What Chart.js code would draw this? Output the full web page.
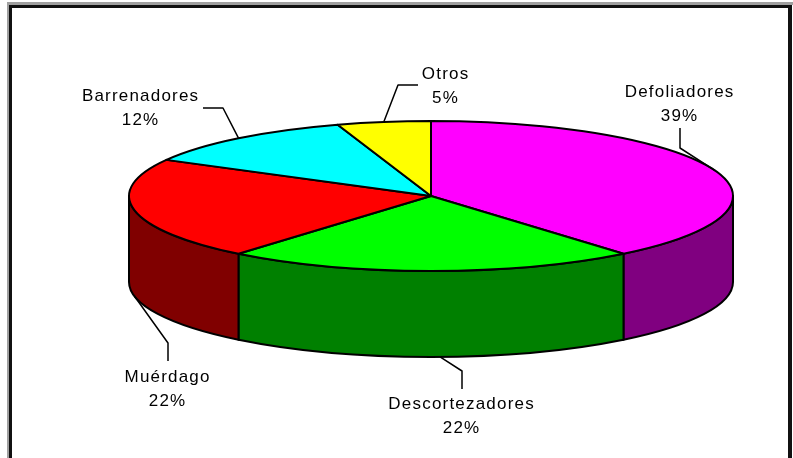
<!DOCTYPE html>
<html>
<head>
<meta charset="utf-8">
<script src="https://cdn.jsdelivr.net/npm/chart.js@4/dist/chart.umd.min.js"></script>
<style>
  html, body { margin: 0; padding: 0; background: #fff; }
  #wrap { position: relative; width: 793px; height: 458px; }
</style>
</head>
<body>
<div id="wrap"><canvas id="chart" width="793" height="458"></canvas></div>
<script>
// data
const categories = ['Defoliadores', 'Descortezadores', 'Muérdago', 'Barrenadores', 'Otros'];
const shares = [39, 22, 22, 12, 5];
const topColors = ['#FF00FF', '#00FF00', '#FF0000', '#00FFFF', '#FFFF00'];
const sideColors = ['#800080', '#008000', '#800000', '#008080', '#808000'];

// fake 3d: the library lays out the arcs, we draw them as a tilted disc
const pie3d = {
  id: 'pie3d',
  beforeDraw(chart) {
    const ctx = chart.ctx;
    ctx.save();
    ctx.fillStyle = '#fff';
    ctx.fillRect(0, 0, chart.width, chart.height);
    // frame like the excel chart area
    ctx.fillStyle = '#a0a0a0';
    ctx.fillRect(7, 2, 786, 3);
    ctx.fillRect(7, 2, 2, 456);
    ctx.fillStyle = '#111';
    ctx.fillRect(9, 5, 783, 3);
    ctx.fillRect(9, 5, 3, 453);
    ctx.fillRect(788, 5, 4, 453);
    ctx.restore();
  },
  beforeDatasetsDraw(chart, args, opts) {
    const ctx = chart.ctx;
    const arcs = chart.getDatasetMeta(0).data;
    const values = chart.data.datasets[0].data;
    const total = values.reduce((a, b) => a + b, 0);
    const cx = arcs[0].x, cy = arcs[0].y;
    const rx = opts.rx, ry = opts.ry, h = opts.depth;

    ctx.save();
    ctx.lineWidth = opts.lineWidth;
    ctx.strokeStyle = '#000';
    ctx.lineJoin = 'round';

    // front walls
    arcs.forEach((arc, i) => {
      const p = arc.getProps(['startAngle', 'endAngle']);
      for (const base of [-2 * Math.PI, 0, 2 * Math.PI]) {
        const a0 = Math.max(p.startAngle, base);
        const a1 = Math.min(p.endAngle, base + Math.PI);
        if (a1 <= a0) continue;
        ctx.beginPath();
        ctx.ellipse(cx, cy, rx, ry, 0, a0, a1);
        ctx.ellipse(cx, cy + h, rx, ry, 0, a1, a0, true);
        ctx.closePath();
        ctx.fillStyle = sideColors[i];
        ctx.fill();
        ctx.stroke();
      }
    });

    // top faces
    arcs.forEach((arc, i) => {
      const p = arc.getProps(['startAngle', 'endAngle']);
      ctx.beginPath();
      ctx.moveTo(cx, cy);
      ctx.ellipse(cx, cy, rx, ry, 0, p.startAngle, p.endAngle);
      ctx.closePath();
      ctx.fillStyle = arc.options.backgroundColor;
      ctx.fill();
      ctx.stroke();
    });

    // labels with leader lines
    ctx.font = opts.font;
    ctx.letterSpacing = opts.letterSpacing + 'px';
    ctx.fillStyle = '#000';
    ctx.textAlign = 'center';
    ctx.lineWidth = 1.5;
    arcs.forEach((arc, i) => {
      const p = arc.getProps(['startAngle', 'endAngle']);
      const lay = opts.labels[i];
      const mid = (p.startAngle + p.endAngle) / 2 + lay.shift;
      const ax = cx + rx * Math.cos(mid);
      const ay = cy + ry * Math.sin(mid) + (Math.sin(mid) > 0 ? h : 0);
      ctx.beginPath();
      ctx.moveTo(lay.from[0], lay.from[1]);
      ctx.lineTo(lay.elbow[0], lay.elbow[1]);
      ctx.lineTo(ax, ay);
      ctx.stroke();
      const pct = Math.round(values[i] / total * 100) + '%';
      const sh = opts.letterSpacing / 2;
      ctx.fillText(categories[i], lay.x + sh, lay.y);
      ctx.fillText(pct, lay.x + sh, lay.y + opts.lineHeight);
    });

    ctx.restore();
    return false;
  }
};

new Chart(document.getElementById('chart'), {
  type: 'pie',
  data: {
    labels: categories,
    datasets: [{
      data: shares,
      backgroundColor: topColors,
      borderWidth: 0
    }]
  },
  options: {
    responsive: false,
    animation: false,
    layout: { padding: { left: 69, bottom: 66 } },
    plugins: {
      legend: { display: false },
      tooltip: { enabled: false },
      pie3d: {
        rx: 302,
        ry: 75,
        depth: 86,
        lineWidth: 2,
        font: '17px "Liberation Sans", Arial, sans-serif',
        letterSpacing: 1.2,
        lineHeight: 24,
        labels: [
          { x: 679, y: 97, from: [680, 128], elbow: [680, 148], shift: 0 },
          // excel hooks this one a little right of the middle
          { x: 461, y: 409, from: [462, 389], elbow: [462, 371], shift: -0.03 },
          { x: 167, y: 382, from: [168, 361], elbow: [168, 343], shift: 0 },
          { x: 140, y: 101, from: [203, 108], elbow: [223, 108], shift: 0 },
          { x: 445, y: 79, from: [418, 85], elbow: [398, 85], shift: 0 }
        ]
      }
    }
  },
  plugins: [pie3d]
});
</script>
</body>
</html>
